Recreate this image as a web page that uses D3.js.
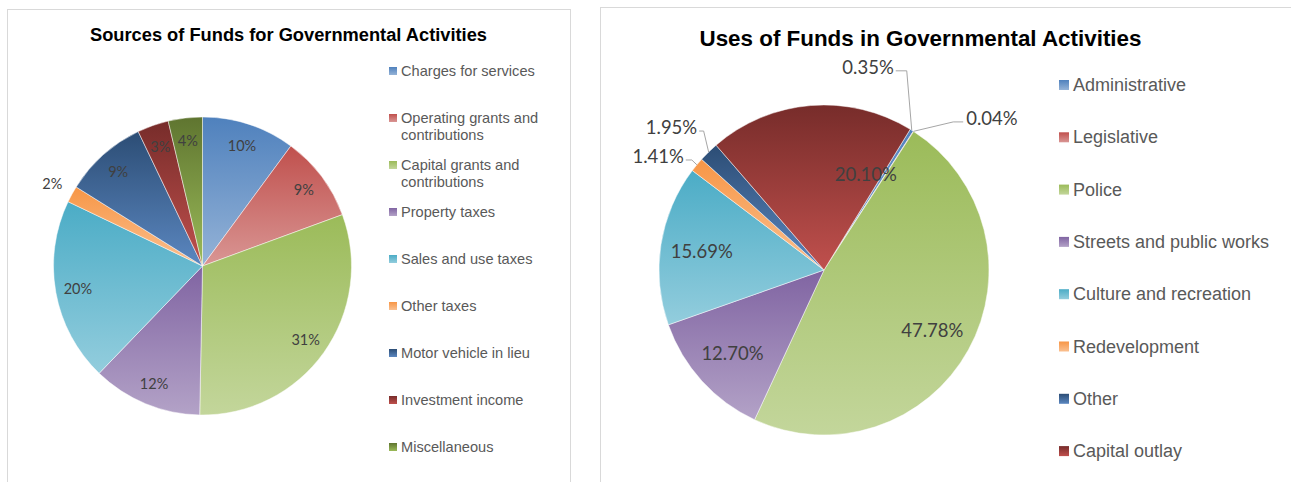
<!DOCTYPE html>
<html><head><meta charset="utf-8">
<script src="https://cdn.jsdelivr.net/npm/d3@7/dist/d3.min.js"></script>
<style>html,body{margin:0;padding:0;background:#fff;} svg{display:block}</style>
</head><body>
<svg id="chart" width="1291" height="482"></svg>
<script>
// ---------- data ----------
const sourceTitle = "Sources of Funds for Governmental Activities";
const sourceCategories = ["Charges for services","Operating grants and contributions","Capital grants and contributions","Property taxes","Sales and use taxes","Other taxes","Motor vehicle in lieu","Investment income","Miscellaneous"];
const sourceValues = [10.1, 9.3, 30.9, 11.9, 19.9, 1.8, 9.0, 3.4, 3.7];

const useTitle = "Uses of Funds in Governmental Activities";
const useCategories = ["Administrative","Legislative","Police","Streets and public works","Culture and recreation","Redevelopment","Other","Capital outlay"];
const useValues = [0.35, 0.04, 47.78, 12.70, 15.69, 1.41, 1.95, 20.10];

// ---------- style ----------
const paletteTop    = ["#4F81BD","#C0504D","#9BBB59","#8064A2","#4BACC6","#F79646","#2C4D75","#772C2A","#5F7530"];
const paletteBottom = ["#95B3D7","#D99694","#C3D69B","#B3A2C7","#93CDDD","#FAC090","#5B87C0","#C0504D","#9BBB59"];

const svg = d3.select("#chart");
const defs = svg.append("defs");
paletteTop.forEach((c, i) => {
  const lg = defs.append("linearGradient").attr("id", "grad" + i)
    .attr("x1", 0).attr("y1", 0).attr("x2", 0).attr("y2", 1);
  lg.append("stop").attr("offset", "0%").attr("stop-color", c);
  lg.append("stop").attr("offset", "100%").attr("stop-color", paletteBottom[i]);
});

// frames
svg.append("rect").attr("x", 7.5).attr("y", 9.5).attr("width", 563).attr("height", 520)
  .attr("fill", "#fff").attr("stroke", "#D9D9D9").attr("stroke-width", 1);
svg.append("rect").attr("x", 600.5).attr("y", 7.5).attr("width", 800).attr("height", 520)
  .attr("fill", "#fff").attr("stroke", "#D9D9D9").attr("stroke-width", 1);

const rad = d => d * Math.PI / 180;

function drawPie(opts) {
  const g = svg.append("g").attr("transform", `translate(${opts.cx},${opts.cy})`);
  const a0 = rad(opts.startDeg);
  const pie = d3.pie().sort(null).value(d => d.v).startAngle(a0).endAngle(a0 + 2 * Math.PI);
  const data = opts.cats.map((c, i) => ({c, v: opts.vals[i], i}));
  const arcs = pie(data);
  const arc = d3.arc().innerRadius(0).outerRadius(opts.r);
  g.selectAll("path.slice").data(arcs).enter().append("path")
    .attr("class", "slice")
    .attr("d", arc)
    .attr("fill", d => `url(#grad${d.data.i})`)
    .attr("stroke", "#ffffff").attr("stroke-opacity", 0.6).attr("stroke-width", 0.8);

  arcs.forEach(d => {
    const mid = (d.startAngle + d.endAngle) / 2;
    const pl = opts.placement(d);
    const ang = mid + rad(pl.da || 0);
    const R = opts.r * pl.k;
    const pos = d3.arc().innerRadius(R).outerRadius(R).centroid({startAngle: ang, endAngle: ang});
    const t = g.append("text")
      .attr("x", pos[0]).attr("y", pos[1])
      .attr("text-anchor", "middle").attr("dominant-baseline", "central")
      .attr("font-family", "Lato, 'Open Sans', sans-serif")
      .attr("font-size", opts.labelSize)
      .attr("fill", "#404040")
      .text(opts.fmt(d.data.v));
    if (pl.leader) {
      const w = t.node().getComputedTextLength();
      const anchor = d3.arc().innerRadius(opts.r).outerRadius(opts.r).centroid({startAngle: mid, endAngle: mid});
      const ly = pos[1] + 4;
      let pts;
      if (pos[0] < anchor[0]) {
        const sx = pos[0] + w / 2 + 2;
        const ex = Math.max(sx + 3, Math.min(anchor[0] - 5, sx + 11));
        pts = [[sx, ly], [ex, ly], anchor];
      } else {
        const sx = pos[0] - w / 2 - 3;
        pts = [[sx, ly], [sx - 10, ly], anchor];
      }
      g.append("path").attr("d", d3.line()(pts))
        .attr("fill", "none").attr("stroke", "#A6A6A6").attr("stroke-width", 1);
    }
  });
}

function drawLegend(opts) {
  const g = svg.append("g");
  opts.cats.forEach((c, i) => {
    const y = opts.y0 + i * opts.step;
    g.append("rect").attr("x", opts.x).attr("y", y - opts.sq / 2)
      .attr("width", opts.sq).attr("height", opts.sq)
      .attr("fill", `url(#grad${i})`);
    const t = g.append("text").attr("x", opts.tx).attr("y", y)
      .attr("dominant-baseline", "central")
      .attr("font-family", "'Liberation Sans', Arial, sans-serif")
      .attr("font-size", opts.size).attr("fill", "#595959");
    // simple word wrap
    const words = c.split(" ");
    let line = [], lineNo = 0;
    let tspan = t.append("tspan").attr("x", opts.tx).attr("y", y);
    words.forEach(w => {
      line.push(w);
      tspan.text(line.join(" "));
      if (tspan.node().getComputedTextLength() > opts.maxW && line.length > 1) {
        line.pop();
        tspan.text(line.join(" "));
        line = [w];
        lineNo++;
        tspan = t.append("tspan").attr("x", opts.tx).attr("y", y + lineNo * opts.lineH).text(w);
      }
    });
  });
}

function drawTitle(text, cx, y, size, len) {
  svg.append("text").attr("x", cx).attr("y", y)
    .attr("text-anchor", "middle")
    .attr("font-family", "'Liberation Sans', Arial, sans-serif")
    .attr("font-weight", "bold").attr("font-size", size).attr("fill", "#000")
    .attr("textLength", len).attr("lengthAdjust", "spacingAndGlyphs")
    .text(text);
}

// ---------- left chart ----------
drawTitle(sourceTitle, 288.5, 41, 18, 397);
drawPie({
  cx: 202.5, cy: 266, r: 149, startDeg: 0,
  cats: sourceCategories, vals: sourceValues,
  fmt: v => Math.round(v) + "%",
  labelSize: 14.5,
  placement: d => d.data.v < 2.5 ? {k: 1.15} : {k: 0.85}
});
drawLegend({cats: sourceCategories, x: 389, sq: 8, tx: 401, y0: 71, step: 47,
  size: 14.6, maxW: 150, lineH: 17});

// ---------- right chart ----------
const useLabelPlacement = {
  "Administrative": {da: -19.9, k: 1.26, leader: true},
  "Legislative":    {da: 15,    k: 1.373, leader: true},
  "Other":          {da: -2.5,  k: 1.267, leader: true},
  "Redevelopment":  {da: -5.1,  k: 1.22, leader: true},
  "Capital outlay": {da: 28.2,  k: 0.635}
};
drawTitle(useTitle, 920.5, 46, 22, 442);
drawPie({
  cx: 824, cy: 270, r: 165, startDeg: 31.5,
  cats: useCategories, vals: useValues,
  fmt: v => v.toFixed(2) + "%",
  labelSize: 18.5,
  placement: d => useLabelPlacement[d.data.c] || {k: 0.75}
});
drawLegend({cats: useCategories, x: 1059, sq: 10, tx: 1073, y0: 85, step: 52.3,
  size: 18, maxW: 300, lineH: 20});
</script>
</body></html>
